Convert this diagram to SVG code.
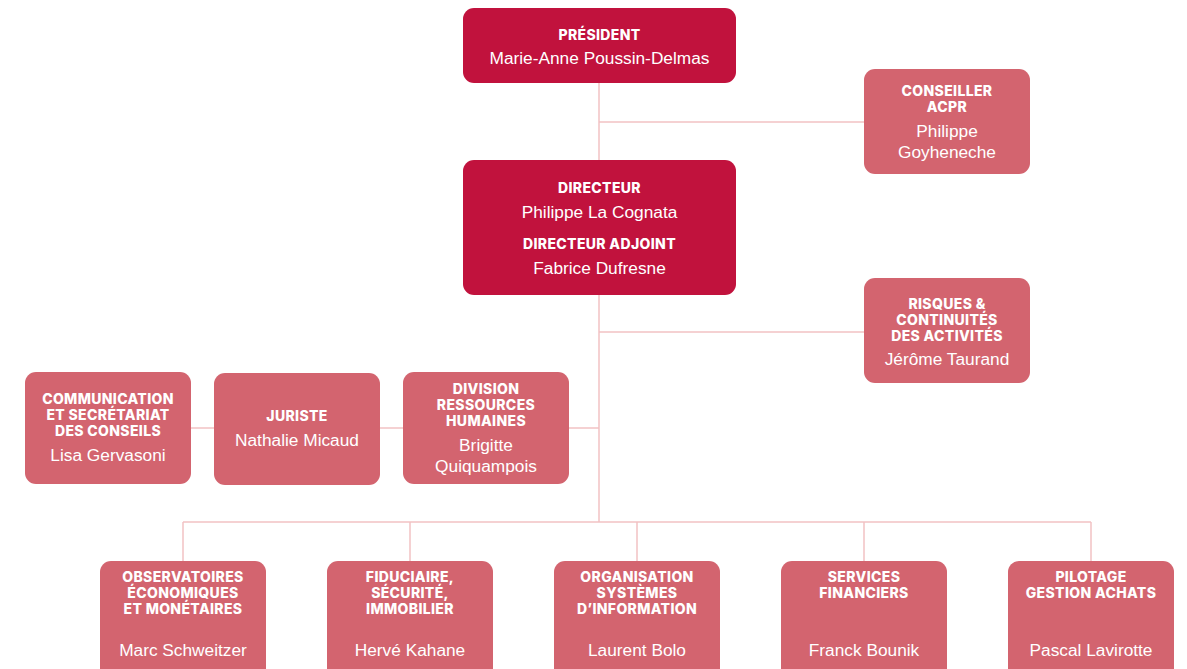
<svg xmlns="http://www.w3.org/2000/svg" width="1187" height="669" viewBox="0 0 1187 669">
<style>
.bg{fill:#ffffff}
.main{fill:#C1123D}
.sub{fill:#D3646F}
.lbl{font-family:Inter,"Liberation Sans",sans-serif;font-weight:800;font-size:14px;letter-spacing:0.35px;fill:#ffffff;text-anchor:middle}
.nm{font-family:"Liberation Sans",Arial,sans-serif;font-size:17.3px;fill:#ffffff;text-anchor:middle}
.ln{stroke:#F2C2C4;stroke-width:1.5;fill:none}
</style>
<rect class="bg" x="0" y="0" width="1187" height="669"/>
<g id="connectors">
<path class="ln" d="M599 83V522M599 122H864M599 332H864M191 428H599M183 522H1091M183 522V561M410 522V561M637 522V561M864 522V561M1091 522V561"/>
</g>
<g id="president">
<rect class="main" x="463" y="8" width="273" height="75" rx="11"/>
<text class="lbl" x="599.5" y="40">PRÉSIDENT</text>
<text class="nm" x="599.5" y="64">Marie-Anne Poussin-Delmas</text>
</g>
<g id="directeur">
<rect class="main" x="463" y="160" width="273" height="135" rx="11"/>
<text class="lbl" x="599.5" y="193">DIRECTEUR</text>
<text class="nm" x="599.5" y="218">Philippe La Cognata</text>
<text class="lbl" x="599.5" y="249">DIRECTEUR ADJOINT</text>
<text class="nm" x="599.5" y="274">Fabrice Dufresne</text>
</g>
<g id="conseiller">
<rect class="sub" x="864" y="69" width="166" height="105" rx="11"/>
<text class="lbl" x="947" y="96">CONSEILLER</text>
<text class="lbl" x="947" y="112">ACPR</text>
<text class="nm" x="947" y="137">Philippe</text>
<text class="nm" x="947" y="158">Goyheneche</text>
</g>
<g id="risques">
<rect class="sub" x="864" y="278" width="166" height="105" rx="11"/>
<text class="lbl" x="947" y="309">RISQUES &amp;</text>
<text class="lbl" x="947" y="325">CONTINUITÉS</text>
<text class="lbl" x="947" y="341">DES ACTIVITÉS</text>
<text class="nm" x="947" y="365">Jérôme Taurand</text>
</g>
<g id="communication">
<rect class="sub" x="25" y="372" width="166" height="112" rx="11"/>
<text class="lbl" x="108" y="404">COMMUNICATION</text>
<text class="lbl" x="108" y="420">ET SECRÉTARIAT</text>
<text class="lbl" x="108" y="436">DES CONSEILS</text>
<text class="nm" x="108" y="461">Lisa Gervasoni</text>
</g>
<g id="juriste">
<rect class="sub" x="214" y="373" width="166" height="112" rx="11"/>
<text class="lbl" x="297" y="421">JURISTE</text>
<text class="nm" x="297" y="446">Nathalie Micaud</text>
</g>
<g id="rh">
<rect class="sub" x="403" y="372" width="166" height="112" rx="11"/>
<text class="lbl" x="486" y="394">DIVISION</text>
<text class="lbl" x="486" y="410">RESSOURCES</text>
<text class="lbl" x="486" y="426">HUMAINES</text>
<text class="nm" x="486" y="451">Brigitte</text>
<text class="nm" x="486" y="472">Quiquampois</text>
</g>
<g id="observatoires">
<rect class="sub" x="100" y="561" width="166" height="120" rx="11"/>
<text class="lbl" x="183" y="582">OBSERVATOIRES</text>
<text class="lbl" x="183" y="598">ÉCONOMIQUES</text>
<text class="lbl" x="183" y="614">ET MONÉTAIRES</text>
<text class="nm" x="183" y="656">Marc Schweitzer</text>
</g>
<g id="fiduciaire">
<rect class="sub" x="327" y="561" width="166" height="120" rx="11"/>
<text class="lbl" x="410" y="582">FIDUCIAIRE,</text>
<text class="lbl" x="410" y="598">SÉCURITÉ,</text>
<text class="lbl" x="410" y="614">IMMOBILIER</text>
<text class="nm" x="410" y="656">Hervé Kahane</text>
</g>
<g id="organisation">
<rect class="sub" x="554" y="561" width="166" height="120" rx="11"/>
<text class="lbl" x="637" y="582">ORGANISATION</text>
<text class="lbl" x="637" y="598">SYSTÈMES</text>
<text class="lbl" x="637" y="614">D’INFORMATION</text>
<text class="nm" x="637" y="656">Laurent Bolo</text>
</g>
<g id="financiers">
<rect class="sub" x="781" y="561" width="166" height="120" rx="11"/>
<text class="lbl" x="864" y="582">SERVICES</text>
<text class="lbl" x="864" y="598">FINANCIERS</text>
<text class="nm" x="864" y="656">Franck Bounik</text>
</g>
<g id="pilotage">
<rect class="sub" x="1008" y="561" width="166" height="120" rx="11"/>
<text class="lbl" x="1091" y="582">PILOTAGE</text>
<text class="lbl" x="1091" y="598">GESTION ACHATS</text>
<text class="nm" x="1091" y="656">Pascal Lavirotte</text>
</g>
</svg>
